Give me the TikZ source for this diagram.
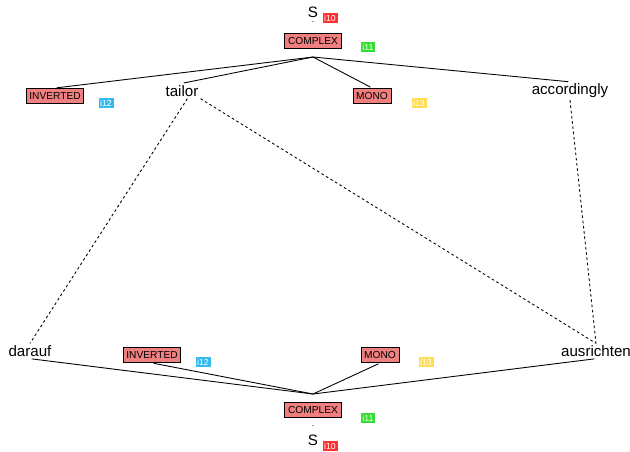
\documentclass[tikz,border=0pt]{standalone}
\usepackage{fontspec}
\setmainfont{Liberation Sans}
\usepackage{xcolor}
\definecolor{boxred}{HTML}{F08080}
\definecolor{tagred}{HTML}{FF3030}
\definecolor{taggreen}{HTML}{33DD33}
\definecolor{tagblue}{HTML}{33BBEE}
\definecolor{tagyellow}{HTML}{FFDD55}
\usepackage{tikz}

\tikzset{
  word/.style={inner sep=1pt, font=\fontsize{8.6}{10}\selectfont},
  feat/.style={draw, fill=boxred, inner xsep=1.8pt, inner ysep=2.3pt, line width=0.5pt, font=\fontsize{5.8}{7}\selectfont},
  tag/.style={draw=#1, fill=#1, text=white, inner sep=0.6pt, font=\fontsize{5}{6}\selectfont},
  link/.style={line width=0.5pt, shorten >=1pt},
  dlink/.style={line width=0.5pt, dash pattern=on 1.5pt off 1.5pt}
}

\begin{document}
\begin{tikzpicture}[x=0.02cm, y=-0.02cm]
                        \useasboundingbox (0, 0) rectangle (630, 451);

                        % top tree
                        \node (S1) at (313, 12) [word] {S};
                        \node (d1) at (313, 22) [word, font=\tiny] {.};
                        \node (i10a) at (330, 18) [tag=tagred] {i10};
                        \node (C1) at (313, 41) [feat] {COMPLEX};
                        \coordinate (top) at (313, 57);
                        \node (i11a) at (368, 47) [tag=taggreen] {i11};
                        \node (I1) at (55, 96) [feat] {INVERTED};
                        \node (i12a) at (106, 103) [tag=tagblue] {i12};
                        \node (tailor) at (182, 91) [word] {tailor};
                        \node (M1) at (372, 96) [feat] {MONO};
                        \node (i13a) at (419, 103) [tag=tagyellow] {i13};
                        \node (accordingly) at (570, 91) [word] {accordingly};

                        % bottom tree
                        \node (darauf) at (30, 351) [word] {darauf};
                        \node (I2) at (152, 355) [feat] {INVERTED};
                        \node (i12b) at (203, 362) [tag=tagblue] {i12};
                        \node (M2) at (380, 355) [feat] {MONO};
                        \node (i13b) at (426, 362) [tag=tagyellow] {i13};
                        \node (ausrichten) at (596, 351) [word] {ausrichten};
                        \coordinate (bot) at (313, 394);
                        \node (C2) at (313, 410) [feat] {COMPLEX};
                        \node (i11b) at (368, 418) [tag=taggreen] {i11};
                        \node (d2) at (313, 426) [word, font=\tiny] {.};
                        \node (S2) at (313, 440) [word] {S};
                        \node (i10b) at (330, 446) [tag=tagred] {i10};

                        \draw[link] (top) to (I1.north);
                        \draw[link] (top) to (tailor.north);
                        \draw[link] (top) to (M1.north);
                        \draw[link] (top) to (accordingly.north);

                        \draw[link] (bot) to (darauf.south);
                        \draw[link] (bot) to (I2.south);
                        \draw[link] (bot) to (M2.south);
                        \draw[link] (bot) to (ausrichten.south);

                        \draw[dlink] (tailor.-55) to (darauf.north);
                        \draw[dlink] (tailor.south east) to (ausrichten.north);
                        \draw[dlink] (accordingly.south) to (ausrichten.north);
                    \end{tikzpicture}
\end{document}
